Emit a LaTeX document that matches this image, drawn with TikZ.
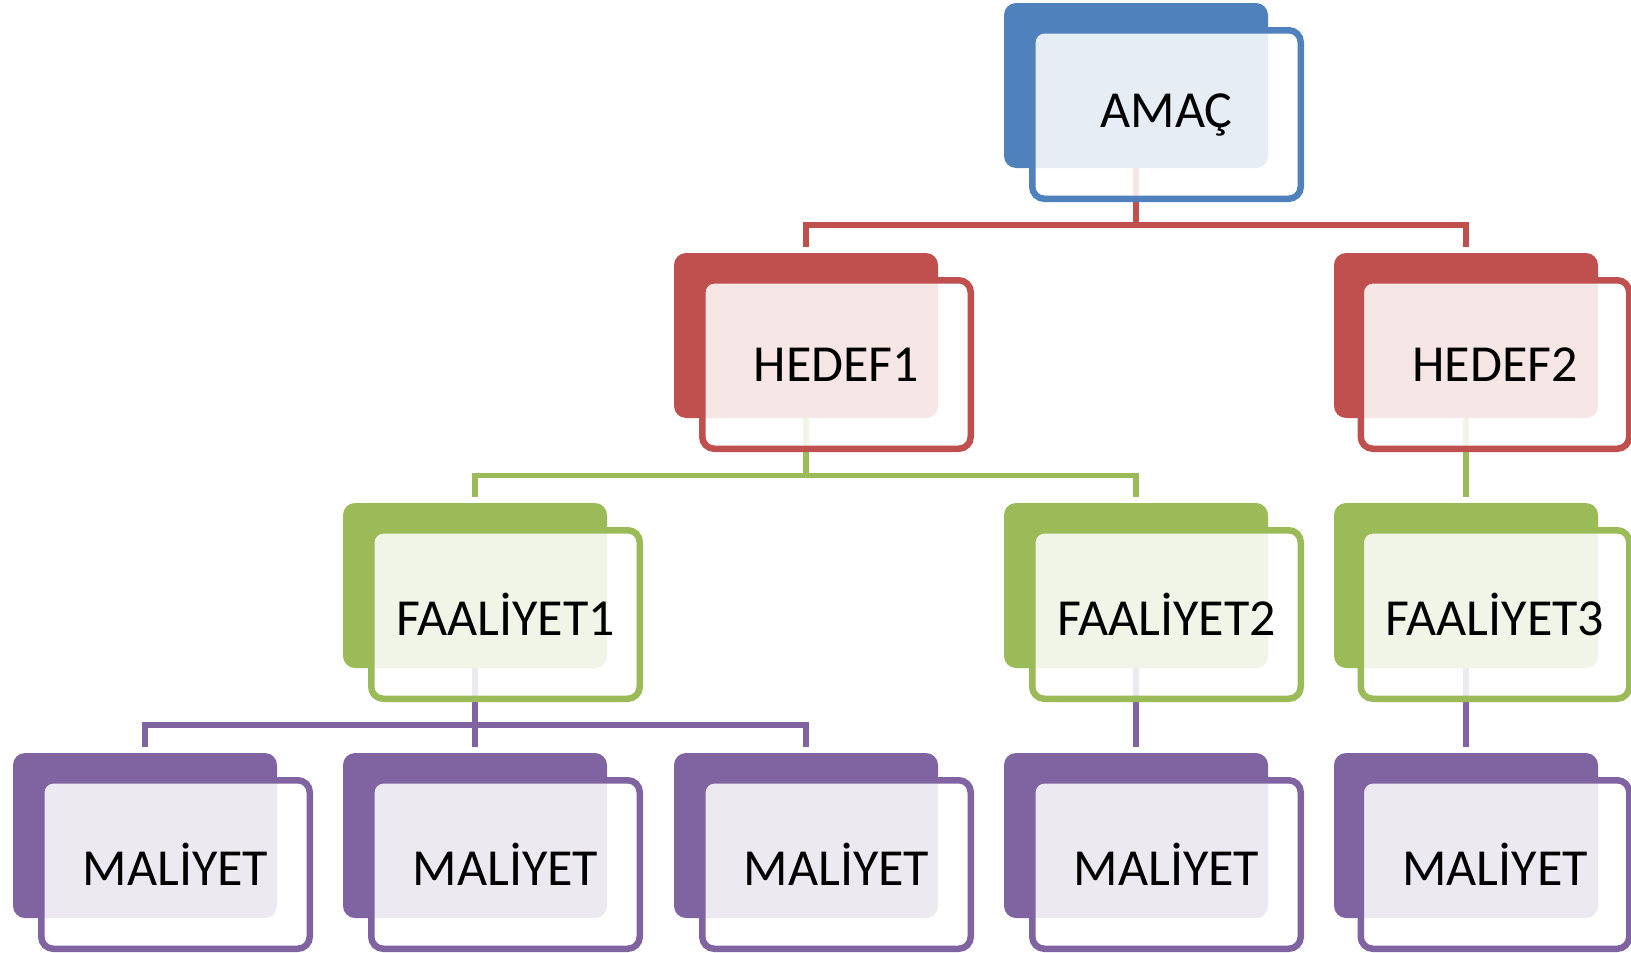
\documentclass[tikz,border=0pt]{standalone}
\usepackage{fontspec}
\setmainfont{Carlito}
\usepackage{tikz}
\usetikzlibrary{positioning, backgrounds}

\definecolor{amacblue}{HTML}{4F81BD}
\definecolor{hedefred}{HTML}{C0504D}
\definecolor{faalgreen}{HTML}{9BBB59}
\definecolor{malpurple}{HTML}{8064A2}

\begin{document}
\begin{tikzpicture}[x=1pt,y=-1pt,
        back/.style={fill=#1,rounded corners=12pt,minimum width=264pt,minimum height=165pt,inner sep=0pt,outer sep=0pt},
        front/.style={draw=#1,line width=6.5pt,fill=white,fill opacity=0.86,text opacity=1,rounded corners=12pt,
          minimum width=268.5pt,minimum height=168.5pt,inner sep=0pt,outer sep=0pt,font=\fontsize{52}{60}\selectfont},
        link/.style={draw=#1,line width=5.5pt,shorten >=6pt}]

      \useasboundingbox (0,0) rectangle (1631,953);

      % top
      \node[back=amacblue]   (amac-b)   at (1136,85.5)    {};
      \node[front=amacblue]  (amac)     at (1166.5,114.5) {AMAÇ};

      % hedef
      \node[back=hedefred]   (hedef1-b) at (806,335.5)    {};
      \node[front=hedefred]  (hedef1)   at (836.5,364.5)  {HEDEF1};
      \node[back=hedefred]   (hedef2-b) at (1466,335.5)   {};
      \node[front=hedefred]  (hedef2)   at (1495,364.5)   {HEDEF2};

      % faaliyet
      \node[back=faalgreen]  (faal1-b)  at (475,585.5)    {};
      \node[front=faalgreen] (faal1)    at (505.5,614.5)  {FAALİYET1};
      \node[back=faalgreen]  (faal2-b)  at (1136,585.5)   {};
      \node[front=faalgreen] (faal2)    at (1166.5,614.5) {FAALİYET2};
      \node[back=faalgreen]  (faal3-b)  at (1466,585.5)   {};
      \node[front=faalgreen] (faal3)    at (1495,614.5)   {FAALİYET3};

      % maliyet
      \node[back=malpurple]  (mal1-b)   at (145,835.5)    {};
      \node[front=malpurple] (mal1)     at (175.5,864.5)  {MALİYET};
      \node[back=malpurple]  (mal2-b)   at (475,835.5)    {};
      \node[front=malpurple] (mal2)     at (505.5,864.5)  {MALİYET};
      \node[back=malpurple]  (mal3-b)   at (806,835.5)    {};
      \node[front=malpurple] (mal3)     at (836.5,864.5)  {MALİYET};
      \node[back=malpurple]  (mal4-b)   at (1136,835.5)   {};
      \node[front=malpurple] (mal4)     at (1166.5,864.5) {MALİYET};
      \node[back=malpurple]  (mal5-b)   at (1466,835.5)   {};
      \node[front=malpurple] (mal5)     at (1495,864.5)   {MALİYET};

      \begin{scope}[on background layer]
        \draw[link=hedefred] (amac-b.south) -- ++(0,57) coordinate (j1) -| (hedef1-b.north);
        \draw[link=hedefred] (j1) -| (hedef2-b.north);

        \draw[link=faalgreen] (hedef1-b.south) -- ++(0,57.5) coordinate (j2) -| (faal1-b.north);
        \draw[link=faalgreen] (j2) -| (faal2-b.north);
        \draw[link=faalgreen] (hedef2-b.south) -- (faal3-b.north);

        \draw[link=malpurple] (faal1-b.south) -- ++(0,57) coordinate (j3) -| (mal1-b.north);
        \draw[link=malpurple] (j3) -- (mal2-b.north);
        \draw[link=malpurple] (j3) -| (mal3-b.north);
        \draw[link=malpurple] (faal2-b.south) -- (mal4-b.north);
        \draw[link=malpurple] (faal3-b.south) -- (mal5-b.north);
      \end{scope}
    \end{tikzpicture}
\end{document}
